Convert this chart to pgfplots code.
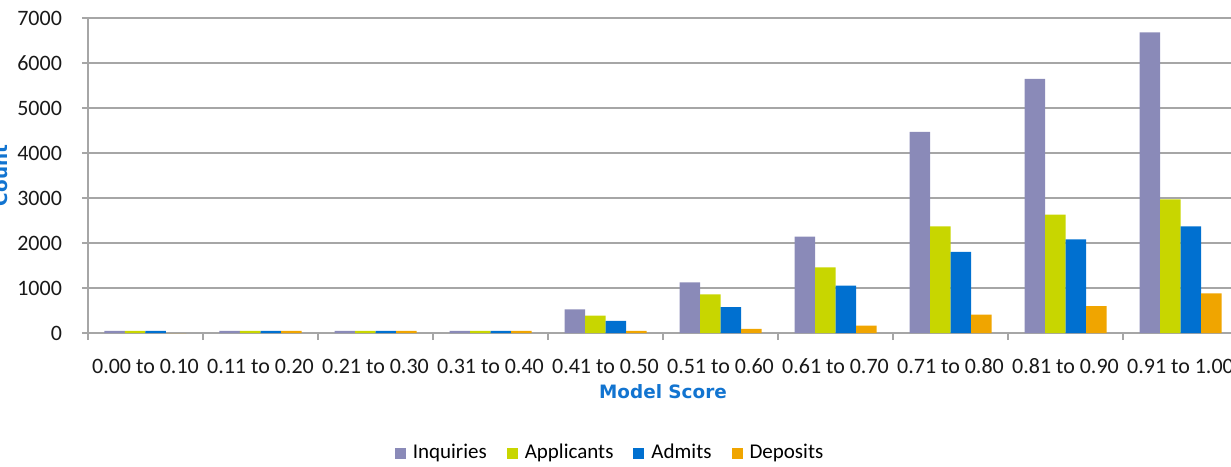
\documentclass[border=0pt]{standalone}
\usepackage{fontspec}
\setmainfont{Carlito}
\newfontfamily\labelfont{DejaVu Sans}
\usepackage{pgfplots}
\pgfplotsset{compat=1.18}
\definecolor{inq}{HTML}{8A8AB8}
\definecolor{app}{HTML}{C8D600}
\definecolor{adm}{HTML}{0070D0}
\definecolor{dep}{HTML}{F0A500}
\definecolor{lblue}{HTML}{1274D0}
\definecolor{gridgray}{HTML}{A6A6A6}

% counts per model-score band (0 = 0.00 to 0.10 ... 9 = 0.91 to 1.00)
\pgfplotstableread{
x  inq   app   adm   dep
0  50    50    50    0
1  50    50    50    50
2  50    50    50    50
3  50    50    50    50
4  525   385   270   50
5  1125  860   575   90
6  2140  1460  1055  165
7  4470  2370  1805  410
8  5650  2630  2080  595
9  6680  2970  2370  880
}\scoredata

\begin{document}
\begin{tikzpicture}
\begin{axis}[
  at={(0,0)}, anchor=south west,
  width=575pt, height=157.5pt, scale only axis,
  ybar=0pt, bar width=10.25pt,
  xmin=-0.5, xmax=9.5, ymin=0, ymax=7000,
  xtick={0,...,9},
  xticklabels={0.00 to 0.10,0.11 to 0.20,0.21 to 0.30,0.31 to 0.40,0.41 to 0.50,
               0.51 to 0.60,0.61 to 0.70,0.71 to 0.80,0.81 to 0.90,0.91 to 1.00},
  major x tick style={draw=none},
  minor xtick={-0.5,0.5,...,9.5},
  ytick={0,1000,...,7000},
  yticklabels={0,1000,2000,3000,4000,5000,6000,7000},
  ymajorgrids,
  grid style={draw=gridgray, line width=0.8pt},
  axis lines*=left,
  axis line style={draw=gridgray, line width=0.8pt},
  tick align=outside,
  tick style={draw=gridgray, line width=0.8pt},
  major tick length=3pt, minor tick length=3.5pt,
  ticklabel style={font=\fontsize{11}{13}\selectfont, text=black!90},
  xticklabel style={anchor=base, yshift=-17pt},
  yticklabel style={anchor=east, xshift=-6.5pt},
  xlabel={\labelfont\bfseries Model Score},
  xlabel style={at={(axis description cs:0.5,0)}, anchor=base, yshift=-32.75pt,
                text=lblue, font=\fontsize{9.2}{11}\selectfont},
  ylabel={\labelfont\bfseries Count},
  ylabel style={at={(axis description cs:-0.0696,0.5)}, anchor=base,
                text=lblue, font=\fontsize{9.2}{11}\selectfont},
  legend columns=4,
  legend style={at={(axis description cs:0.4548,-0.381)}, anchor=center,
                draw=none, fill=none, font=\fontsize{10.5}{12}\selectfont,
                /tikz/every even column/.append style={column sep=8pt}},
  legend image code/.code={\fill[#1] (0pt,-2.75pt) rectangle (5.5pt,2.75pt);
                           \path (7pt,0pt);},
]
  \addplot[fill=inq, draw=none] table[x=x, y=inq] {\scoredata};
  \addplot[fill=app, draw=none] table[x=x, y=app] {\scoredata};
  \addplot[fill=adm, draw=none] table[x=x, y=adm] {\scoredata};
  \addplot[fill=dep, draw=none] table[x=x, y=dep] {\scoredata};
  \legend{Inquiries, Applicants, Admits, Deposits}
\end{axis}
\pgfresetboundingbox
\useasboundingbox (-44pt,-66.5pt) rectangle (571.5pt,166.5pt);
\end{tikzpicture}
\end{document}
